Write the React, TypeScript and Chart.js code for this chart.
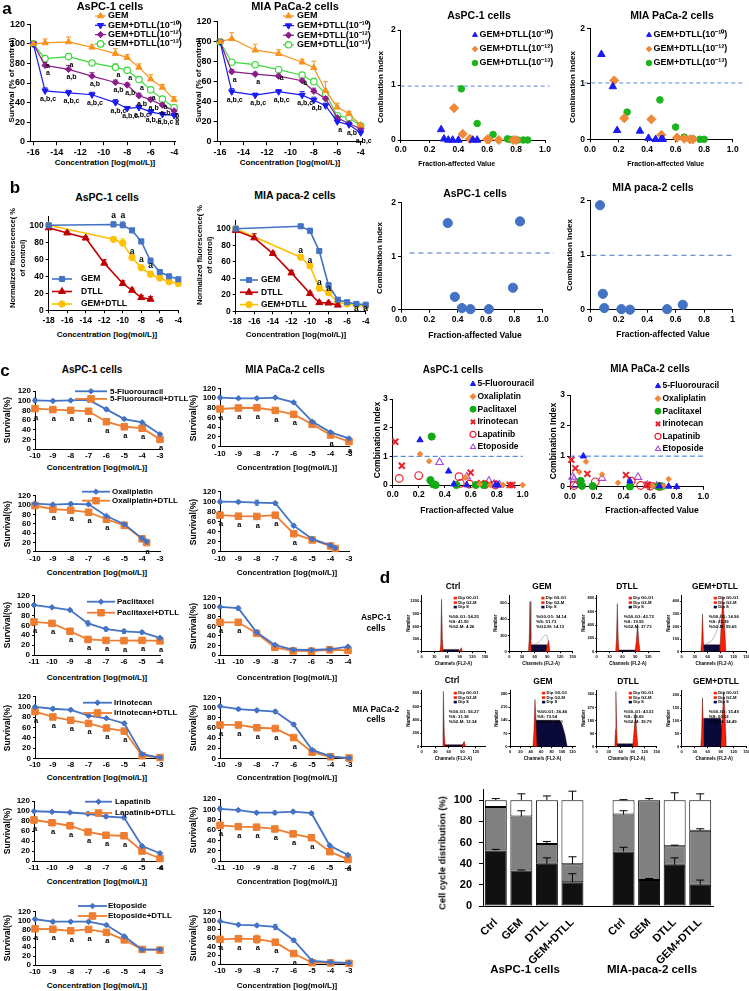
import React, { useEffect, useRef } from "react";
import { Chart, registerables } from "chart.js";

Chart.register(...registerables);

const FF = "'Liberation Sans', Arial, Helvetica, sans-serif";
const bf = (s: number) => `bold ${s}px ${FF}`;

// ================= Panel a : survival curves =================
const A_X = [-16, -15, -13, -11, -9, -8, -7, -6, -5, -4];
const A_XTICKS = [-16, -14, -12, -10, -8, -6, -4];
const A_YTICKS = [0, 20, 40, 60, 80, 100, 120];
const A_LABELS = ["GEM", "GEM+DTLL(10⁻¹⁰)", "GEM+DTLL(10⁻¹²)", "GEM+DTLL(10⁻¹³)"];

const A1_GEM = [100, 101, 102, 96.5, 90, 86, 76, 64, 55.5, 43];
const A1_GEM_ERR = [0, 4, 5, 2.5, 5, 3, 3.5, 4.5, 3, 3];
const A1_D10 = [100, 52, 50, 48, 40, 34, 35, 30.5, 28, 27];
const A1_D10_ERR = [0, 3, 2.5, 2.5, 3, 2, 2.5, 2, 1.5, 2];
const A1_D12 = [100, 78, 74, 67, 60.5, 58, 47, 43, 37.5, 31.5];
const A1_D12_ERR = [0, 3, 4, 3.5, 2.5, 2, 2.5, 2, 2, 1.5];
const A1_D13 = [100, 85, 87, 80.5, 76, 73, 63.5, 53, 43.5, 35];
const A1_D13_ERR = [0, 2, 2.5, 2.5, 3.5, 3, 2, 2.5, 1.5, 2];
const A1_N10 = ["", "a,b,c", "a,b,c", "a,b,c", "a,b,c", "a,b,c", "a,b,c", "a,b,c", "a,b,c", "a"];
const A1_N12 = ["", "a", "a,b", "a,b", "a,b", "a,b", "a,b", "a,b", "a,b", "a"];
const A1_N13 = ["", "a", "a", "", "a", "a", "a", "a", "a", "a"];

const A2_GEM = [100, 103, 91.5, 88, 79.5, 74, 51, 34.5, 28, 16.5];
const A2_GEM_ERR = [0, 6, 6, 4, 3, 6.5, 9, 4, 2, 1.5];
const A2_D10 = [100, 50, 46.5, 50, 46.5, 41.5, 36, 20, 17, 9];
const A2_D10_ERR = [0, 3, 2, 2, 3.5, 3, 2.5, 2, 2, 1.5];
const A2_D12 = [100, 70, 67.5, 65.5, 61, 50.5, 43, 24, 18, 13];
const A2_D12_ERR = [0, 2, 2, 2, 2.5, 3, 2.5, 2, 2, 1.5];
const A2_D13 = [100, 79.5, 77, 72, 66.5, 60, 48, 26, 24, 16];
const A2_D13_ERR = [0, 2, 2, 2, 3, 3.5, 3, 2, 2, 2];
const A2_N10 = ["", "a,b,c", "a,b,c", "a,b,c", "a,b,c", "a,b", "", "a", "a,b", "a,b,c"];
const A2_N12 = ["", "a", "a", "", "", "", "", "", "", ""];
const A2_N13 = ["", "", "", "a", "a", "", "", "", "", ""];

// Combination index (fraction affected, CI)
const CI_XTICKS = [0, 0.2, 0.4, 0.6, 0.8, 1.0];
const A3_D10 = [[0.28, 0.19], [0.3, 0.02], [0.33, 0], [0.36, 0], [0.4, 0], [0.5, 0], [0.53, 0]];
const A3_D12 = [[0.37, 0.58], [0.43, 0.11], [0.48, 0.02], [0.6, 0.01], [0.61, 0.01], [0.68, 0], [0.78, 0], [0.8, 0]];
const A3_D13 = [[0.42, 0.93], [0.53, 0.3], [0.64, 0.1], [0.74, 0.02], [0.76, 0.01], [0.81, 0], [0.85, 0], [0.88, 0]];
const A4_D10 = [[0.08, 1.53], [0.16, 0.95], [0.19, 0.16], [0.35, 0.15], [0.41, 0.02], [0.46, 0], [0.5, 0], [0.51, 0]];
const A4_D12 = [[0.17, 1.06], [0.24, 0.38], [0.43, 0.36], [0.5, 0.08], [0.61, 0.03], [0.66, 0.01], [0.7, 0], [0.72, 0]];
const A4_D13 = [[0.26, 0.49], [0.49, 0.71], [0.6, 0.22], [0.66, 0.04], [0.72, 0.01], [0.77, 0], [0.8, 0]];

// ================= Panel b =================
const B_XTICKS = [-18, -16, -14, -12, -10, -8, -6, -4];
const B_YTICKS = [0, 20, 40, 60, 80, 100];
const B_LABELS = ["GEM", "DTLL", "GEM+DTLL"];
const B_GEM_X = [-18, -11, -10, -9, -8, -7, -6, -5, -4];
const B_DTLL_X = [-18, -16, -14, -12, -10, -9, -8, -7];
const B_COMB_X = [-18, -11, -10, -9, -8, -7, -6, -5, -4];
const B1_GEM = [100, 101, 100, 94, 81, 58, 45, 40, 36.5];
const B1_GEM_ERR = [3, 3, 4, 2.5, 2.5, 3.5, 2.5, 2, 1.5];
const B1_DTLL = [97, 91, 85, 55.5, 31.5, 23.5, 15, 13];
const B1_DTLL_ERR = [1.5, 2, 2, 4, 3, 2.5, 2.5, 3];
const B1_COMB = [100, 83.5, 79, 62, 50, 42.5, 38, 33.5, 31.5];
const B1_COMB_ERR = [2, 2, 5, 3, 3, 3, 2, 1.5, 1.5];
const B1_NOTES: [number, number, string][] = [[-11, 111, "a"], [-10, 111, "a"], [-9, 69, "a"], [-8, 59, "a"], [-7, 52, "a"]];
const B2_GEM = [100, 103, 97.5, 73, 31.5, 14, 11, 9, 8];
const B2_GEM_ERR = [3, 2, 3, 3, 3, 2, 1.5, 1, 1];
const B2_DTLL = [98, 89, 70, 46.5, 21.5, 10.5, 10, 7.5];
const B2_DTLL_ERR = [3, 5, 2.5, 3, 2, 2, 1.5, 2];
const B2_COMB = [100, 65.5, 55, 28, 22.5, 11, 9, 7.5, 6.5];
const B2_COMB_ERR = [2, 2, 3, 3, 2, 1.5, 1, 1, 1];
const B2_NOTES: [number, number, string][] = [[-11, 74, "a"], [-10, 61, "a"], [-9, 35, "a"], [-8, 27, "a"], [-5, 3.5, "a"], [-4, 3.5, "a"]];
const B3_CI = [[0.33, 1.62], [0.84, 1.65], [0.38, 0.24], [0.43, 0.03], [0.49, 0.01], [0.62, 0.01], [0.79, 0.41]];
const B4_CI = [[0.07, 1.91], [0.09, 0.29], [0.1, 0.03], [0.22, 0.01], [0.28, 0], [0.54, 0.01], [0.65, 0.09]];

// ================= Panel c =================
const C_YTICKS = [0, 20, 40, 60, 80, 100, 120];
const X_10_3 = [-10, -9, -8, -7, -6, -5, -4, -3];
const X_11_4 = [-11, -10, -9, -8, -7, -6, -5, -4];
const X_OXA = [-10, -9, -8, -7, -6, -5, -4, -3.75];
const C_DRUGS = ["5-Fluorouracil", "Oxaliplatin", "Paclitaxel", "Irinotecan", "Lapatinib", "Etoposide"];

const C1L_B = [100.5, 99.5, 100.5, 101.5, 82, 62, 55, 30.5];
const C1L_B_E = [4, 2, 2, 2, 3, 2, 2, 2];
const C1L_O = [83.5, 81.5, 80, 78, 56.5, 46, 43, 20];
const C1L_O_E = [6, 4, 5, 6, 3, 3, 3, 3];
const C1R_B = [101, 99.5, 99.5, 101, 91, 51.5, 29.5, 17];
const C1R_B_E = [3, 2, 2, 2, 2, 2, 2, 2];
const C1R_O = [77.5, 79.5, 80, 74.5, 66.5, 46, 24, 10.5];
const C1R_O_E = [3, 3, 2, 3, 2, 2, 2, 2];

const C2L_B = [103, 101, 102.5, 101.5, 76.5, 59, 28.5, 21.5];
const C2L_B_E = [2, 2, 3, 2, 2, 2, 2, 2];
const C2L_O = [99, 91, 89, 84.5, 69.5, 56.5, 27.5, 19.5];
const C2L_O_E = [7, 3, 3, 3, 3, 2, 2, 2];
const C2R_B = [100, 99.5, 98, 97, 52, 25.5, 12.5, 7.5];
const C2R_B_E = [3, 3, 5, 3, 3, 2, 2, 1];
const C2R_O = [73, 71, 70.5, 73, 36, 23.5, 11.5, 6.5];
const C2R_O_E = [2, 2, 2, 2, 2, 2, 2, 1];

const C3L_B = [101, 96.5, 91, 64, 52.5, 48, 46, 34.5];
const C3L_B_E = [3, 2, 2, 5, 4, 4, 3, 2];
const C3L_O = [67, 64, 48, 31.5, 29.5, 29, 29.5, 28.5];
const C3L_O_E = [5, 3, 3, 3, 2, 2, 2, 2];
const C3R_B = [101, 98, 47.5, 21, 11, 10.5, 12, 17.5];
const C3R_B_E = [3, 4, 4, 3, 2, 2, 2, 2];
const C3R_O = [68.5, 68.5, 45.5, 16, 8.5, 8, 11, 9.5];
const C3R_O_E = [6, 5, 3, 2, 2, 2, 2, 2];

const C4L_B = [100, 96.5, 94.5, 83, 78, 68, 8, 1.5];
const C4L_B_E = [3, 3, 2, 3, 2, 3, 2, 1];
const C4L_O = [91, 80.5, 74, 68, 59, 53, 5, 1.5];
const C4L_O_E = [3, 2, 2, 2, 2, 2, 2, 1];
const C4R_B = [103, 97.5, 95, 92.5, 67, 16.5, 4, 0.5];
const C4R_B_E = [3, 3, 3, 3, 3, 3, 2, 1];
const C4R_O = [66, 66, 60.5, 59, 41, 12, 3, 0.5];
const C4R_O_E = [2, 3, 3, 3, 4, 2, 2, 1];

const C5L_B = [99.5, 98.5, 97, 94.5, 89, 87, 30, 15.5];
const C5L_B_E = [2, 2, 2, 3, 3, 3, 3, 2];
const C5L_O = [82, 76.5, 70.5, 58, 51.5, 50.5, 20, 5];
const C5L_O_E = [6, 3, 2, 5, 2, 3, 3, 2];
const C5R_B = [101, 98.5, 93.5, 93.5, 95.5, 92.5, 30, 11.5];
const C5R_B_E = [4, 2, 2, 3, 3, 3, 3, 2];
const C5R_O = [69, 66.5, 65.5, 62, 52.5, 45, 18, 3];
const C5R_O_E = [3, 2, 2, 2, 2, 3, 2, 1];

const C6L_B = [103, 97.5, 97.5, 97.5, 90, 64.5, 34.5, 35];
const C6L_B_E = [3, 3, 2, 3, 2, 2, 2, 2];
const C6L_O = [81.5, 80.5, 77, 80, 73.5, 56.5, 35, 33.5];
const C6L_O_E = [3, 3, 6, 5, 3, 3, 2, 2];
const C6R_B = [98, 90, 88.5, 85, 54.5, 7, 4, 2.5];
const C6R_B_E = [2, 2, 3, 6, 4, 1, 1, 1];
const C6R_O = [56.5, 58, 57, 50, 24, 3, 2.5, 1.5];
const C6R_O_E = [6, 4, 9, 6, 3, 1, 1, 1];

const N_ALL = ["a", "a", "a", "a", "a", "a", "a", "a"];
const N_C1R = ["a", "a", "a", "a", "a", "", "a", "a"];
const N_C2L = ["", "a", "a", "a", "a", "", "", "a"];
const N_FIRST5 = ["a", "a", "a", "a", "a", "", "", ""];
const N_FIRST6 = ["a", "a", "a", "a", "a", "a", "", ""];
const N_FIRST2 = ["a", "a", "", "", "", "", "", ""];
const N_C5R = ["a", "a", "a", "a", "a", "a", "", "a"];

const CI3_YTICKS = [0, 1, 2, 3];
const CC1 = [
  [[0.21, 1.57], [0.43, 0.48], [0.47, 0.03], [0.57, 0], [0.79, 0], [0.81, 0]],
  [[0.21, 1.08], [0.28, 0.83], [0.56, 0.26], [0.67, 0.03], [0.75, 0], [0.83, 0], [0.85, 0], [1.0, 0]],
  [[0.3, 1.69], [0.29, 0.17], [0.31, 0.03], [0.33, 0], [0.49, 0], [0.64, 0], [0.7, 0]],
  [[0.02, 1.51], [0.07, 0.67], [0.6, 0.43], [0.68, 0.06], [0.74, 0.03], [0.9, 0], [0.92, 0]],
  [[0.05, 0.23], [0.2, 0.33], [0.51, 0.29], [0.52, 0.06], [0.59, 0.03], [0.71, 0.01], [0.79, 0]],
  [[0.36, 0.79], [0.57, 0.29], [0.74, 0.14], [0.78, 0.03], [0.8, 0], [0.82, 0]],
];
const CC2 = [
  [[0.1, 1.0], [0.45, 0.18], [0.67, 0.02], [0.74, 0.01], [0.8, 0]],
  [[0.12, 0.82], [0.07, 0.48], [0.24, 0.4], [0.36, 0.13], [0.74, 0.25], [0.7, 0.02], [0.62, 0.02]],
  [[0.08, 0.19], [0.09, 0.03], [0.17, 0.02], [0.45, 0.01], [0.66, 0.01], [0.69, 0.01]],
  [[0.01, 0.88], [0.04, 0.6], [0.13, 0.42], [0.42, 0.38], [0.58, 0.07], [0.61, 0.04]],
  [[0.03, 0.04], [0.19, 0.16], [0.46, 0.18], [0.53, 0.04], [0.6, 0.02], [0.67, 0.01]],
  [[0.02, 0.32], [0.03, 0.25], [0.04, 0.05], [0.24, 0.28], [0.51, 0.31], [0.58, 0.05], [0.65, 0.02]],
];

// ================= Panel d =================
const H_STATS_ASPC = [[54.25, 41.5, 4.26], [34.14, 51.73, 14.13], [42.72, 19.55, 37.73], [14.96, 25.39, 59.65]];
const H_STATS_MIA = [[56.27, 31.38, 12.34], [26.46, 73.54, 0.0], [43.51, 16.69, 39.79], [15.49, 50.02, 34.49]];
const H_X150 = [0, 30, 60, 90, 120, 150];
const H_X120 = [0, 30, 60, 90, 120];
const H_X_GEM = [0, 20, 40, 60, 80, 100, 120];
const H1_Y = [0, 300, 600, 900, 1200];
const H2_Y = [0, 200, 400, 600];
const H3_Y = [0, 200, 400, 600, 800];
const H4_Y = [0, 100, 200, 300, 400];
const H5_Y = [0, 200, 400, 600, 800];
const H6_Y = [0, 70, 140, 210, 280];
const H7_Y = [0, 90, 180, 270, 360];
const H8_Y = [0, 50, 100, 150, 200];
const H1_G1 = [[43, 0], [45, 150], [47, 1250], [49, 300], [51, 0]];
const H1_S = [[50, 0], [50, 55], [88, 55], [88, 0]];
const H1_G2 = [[89, 0], [92, 70], [94, 95], [96, 0]];
const H2_G1 = [[45, 0], [47, 150], [49, 620], [51, 150], [53, 0]];
const H2_S = [[51, 0], [51, 85], [88, 85], [88, 0]];
const H2_G2 = [[86, 0], [90, 80], [93, 140], [96, 0]];
const H2_OUT = [[52, 85], [65, 100], [75, 150], [82, 195], [88, 205], [92, 140]];
const H3_G1 = [[44, 0], [46, 200], [48, 720], [50, 200], [52, 0]];
const H3_S = [[50, 0], [50, 25], [90, 25], [90, 0]];
const H3_G2 = [[89, 0], [92, 150], [95, 410], [98, 150], [101, 0]];
const H4_G1 = [[44, 0], [46, 80], [48, 300], [50, 80], [52, 0]];
const H4_S = [[50, 0], [50, 55], [88, 55], [88, 0]];
const H4_G2 = [[88, 0], [91, 200], [95, 440], [99, 200], [102, 0]];
const H4_OUT = [[55, 60], [70, 90], [82, 180], [90, 300]];
const H5_G1 = [[45, 0], [47, 200], [48, 830], [50, 200], [52, 0]];
const H5_S = [[50, 0], [50, 30], [90, 30], [90, 0]];
const H5_G2 = [[88, 0], [91, 40], [94, 80], [97, 0]];
const H6_G1 = [[44, 0], [46, 80], [48, 250], [50, 150], [52, 0]];
const H6_S = [[48, 0], [50, 140], [95, 140], [100, 120], [106, 60], [110, 0]];
const H6_G2: number[][] = [];
const H7_G1 = [[45, 0], [47, 120], [48, 380], [50, 120], [52, 0]];
const H7_S = [[50, 0], [50, 20], [90, 20], [90, 0]];
const H7_G2 = [[90, 0], [93, 100], [97, 230], [100, 100], [103, 0]];
const H8_G1 = [[44, 0], [46, 60], [48, 190], [50, 60], [52, 0]];
const H8_S = [[50, 0], [50, 110], [90, 110], [93, 60], [95, 0]];
const H8_G2 = [[90, 0], [94, 120], [97, 215], [100, 120], [103, 0]];

const BAR_CATS = ["Ctrl", "GEM", "DTLL", "GEM+DTLL", "", "Ctrl", "GEM", "DTLL", "GEM+DTLL"];
const BAR_YTICKS = [0, 20, 40, 60, 80, 100];
const BAR_G1 = [52.5, 33.5, 40, 22.5, null, 51.5, 24.5, 39, 20];
const BAR_S = [41, 51, 18.5, 17, null, 35, 75.5, 17.5, 51];
const BAR_G2 = [6.5, 15.5, 41.5, 60.5, null, 13.5, 0, 43.5, 29];
const BAR_G1_ERR = [1, 0.5, 5.5, 8, 0, 4, 1.5, 6.5, 4.5];
const BAR_S_ERR = [0.5, 5.5, 2.5, 7, 0, 3.5, 1.5, 1, 2];
const BAR_G2_ERR = [1.5, 6, 4, 8.5, 0, 0.5, 0, 7, 6];

// ================= colours =================
const C_GEM_A = "#F7941D";
const C_D10 = "#1A1AF2";
const C_D12 = "#8B1C8B";
const C_D13 = "#3BD83B";
const C_CIO = "#F0883A";
const C_CIG = "#1DB41D";
const C_XB = "#4472C4";
const C_XR = "#C00000";
const C_XY = "#FFC000";
const C_XO = "#ED7D31";
const C_DASH = "#4F86E0";
const C_RED = "#FF1E00";
const C_NAVY = "#0A0A3A";

type P4 = [number, number, number, number];

function marker(ctx: any, style: string, x: number, y: number, r: number, stroke: string, fill: string, rot: number, lw: number) {
  ctx.save();
  ctx.translate(x, y);
  ctx.rotate((rot * Math.PI) / 180);
  ctx.beginPath();
  if (style === "triangle") {
    ctx.moveTo(0, -r);
    ctx.lineTo(0.866 * r, 0.5 * r);
    ctx.lineTo(-0.866 * r, 0.5 * r);
    ctx.closePath();
  } else if (style === "rect") {
    const s = r * Math.SQRT1_2;
    ctx.rect(-s, -s, 2 * s, 2 * s);
  } else if (style === "rectRot") {
    ctx.moveTo(-r, 0);
    ctx.lineTo(0, -r);
    ctx.lineTo(r, 0);
    ctx.lineTo(0, r);
    ctx.closePath();
  } else if (style === "crossRot") {
    const s = r * Math.SQRT1_2;
    ctx.moveTo(-s, -s);
    ctx.lineTo(s, s);
    ctx.moveTo(s, -s);
    ctx.lineTo(-s, s);
  } else {
    ctx.arc(0, 0, r, 0, Math.PI * 2);
  }
  ctx.lineWidth = lw;
  ctx.strokeStyle = stroke;
  ctx.fillStyle = fill;
  if (style !== "crossRot") ctx.fill();
  ctx.stroke();
  ctx.restore();
}

function drawErr(chart: any) {
  const ctx = chart.ctx;
  const ys = chart.scales.y;
  chart.data.datasets.forEach((ds: any, i: number) => {
    if (!ds.errs) return;
    const meta = chart.getDatasetMeta(i);
    ctx.save();
    ctx.strokeStyle = ds.errColor || ds.borderColor;
    ctx.lineWidth = ds.errW || 1;
    meta.data.forEach((el: any, j: number) => {
      const e = ds.errs[j];
      if (!e) return;
      const v = ys.getValueForPixel(el.y);
      const yt = ys.getPixelForValue(v + e);
      const yb = ds.errBoth ? ys.getPixelForValue(v - e) : el.y;
      const cw = ds.errCap ?? 2.5;
      ctx.beginPath();
      ctx.moveTo(el.x, yb);
      ctx.lineTo(el.x, yt);
      ctx.moveTo(el.x - cw, yt);
      ctx.lineTo(el.x + cw, yt);
      if (ds.errBoth) {
        ctx.moveTo(el.x - cw, yb);
        ctx.lineTo(el.x + cw, yb);
      }
      ctx.stroke();
    });
    ctx.restore();
  });
}

function overlay(ext: any, bx: number, by: number) {
  return {
    id: "overlay",
    beforeDatasetsDraw(chart: any) {
      const ctx = chart.ctx;
      const xs = chart.scales.x;
      const ys = chart.scales.y;
      (ext.hlines || []).forEach((h: any) => {
        const y = ys.getPixelForValue(h.y);
        ctx.save();
        ctx.strokeStyle = h.color;
        ctx.lineWidth = 1;
        ctx.setLineDash(h.dash || [4, 3]);
        ctx.beginPath();
        ctx.moveTo(xs.getPixelForValue(h.x0), y);
        ctx.lineTo(xs.getPixelForValue(h.x1), y);
        ctx.stroke();
        ctx.restore();
      });
      if (chart.config.type !== "bar") drawErr(chart);
    },
    afterDatasetsDraw(chart: any) {
      const ctx = chart.ctx;
      const xs = chart.scales.x;
      const ys = chart.scales.y;
      if (chart.config.type === "bar") drawErr(chart);
      ctx.save();
      ctx.fillStyle = "#000";
      ctx.textAlign = "center";
      ctx.textBaseline = "middle";
      if (ext.noteFont) {
        ctx.font = ext.noteFont;
        chart.data.datasets.forEach((ds: any, i: number) => {
          if (!ds.notes) return;
          chart.getDatasetMeta(i).data.forEach((el: any, j: number) => {
            const t = ds.notes[j];
            if (t) ctx.fillText(t, el.x + (ext.ndx ?? 0), el.y + (ext.ndy ?? 8));
          });
        });
        (ext.notes || []).forEach((n: any) => ctx.fillText(n[2], xs.getPixelForValue(n[0]), ys.getPixelForValue(n[1])));
      }
      const L = ext.legend;
      if (L) {
        ctx.textAlign = "left";
        chart.data.datasets
          .filter((d: any) => d.label)
          .forEach((ds: any, k: number) => {
            const x = L.x - bx;
            const y = L.y - by + k * L.dy;
            if (L.line) {
              ctx.strokeStyle = ds.borderColor;
              ctx.lineWidth = ds.borderWidth;
              ctx.beginPath();
              ctx.moveTo(x, y);
              ctx.lineTo(x + L.line, y);
              ctx.stroke();
            }
            marker(ctx, ds.pointStyle, x + (L.line || 0) / 2, y, L.r ?? ds.pointRadius, ds.pointBorderColor, ds.pointBackgroundColor, ds.pointRotation || 0, ds.pointBorderWidth || 1);
            ctx.fillStyle = "#000";
            ctx.font = L.font;
            ctx.fillText(ds.label, x + (L.line || 0) + L.gap, y);
          });
      }
      (ext.rects || []).forEach((r: any) => {
        ctx.fillStyle = r.c;
        ctx.fillRect(r.x - bx, r.y - by, r.w, r.h);
      });
      ctx.textAlign = "left";
      (ext.texts || []).forEach((t: any) => {
        ctx.font = t.f;
        ctx.fillStyle = "#000";
        ctx.fillText(t.t, t.x - bx, t.y - by);
      });
      ctx.restore();
    },
  };
}

function lin(min: number, max: number, ticks: number[], o: any = {}) {
  return {
    type: "linear",
    min,
    max,
    afterBuildTicks: (s: any) => {
      s.ticks = ticks.map((v) => ({ value: v }));
    },
    ticks: {
      font: { family: FF, size: o.font ?? 9, weight: "bold" },
      color: "#000",
      padding: o.pad ?? 2,
      autoSkip: false,
      maxRotation: 0,
      minRotation: 0,
      callback: (v: any) => (o.fmt ? o.fmt(Number(v)) : String(v)),
    },
    grid: { display: true, drawOnChartArea: false, drawTicks: (o.tick ?? 3) > 0, tickLength: o.tick ?? 3, color: "#000", lineWidth: 1 },
    border: { display: true, color: "#000", width: 1 },
    title: o.title
      ? { display: true, text: o.title, font: { family: FF, size: o.tfont ?? 4.5, weight: "bold" }, color: "#000", padding: 0 }
      : { display: false },
  };
}

function build(plot: P4, m: P4, type: string, datasets: any[], xs: any, ys: any, ext: any, labels?: string[]) {
  const bx = Math.floor(plot[0] - m[0]);
  const by = Math.floor(plot[1] - m[1]);
  const bw = Math.ceil(plot[2] + m[2]) - bx;
  const bh = Math.ceil(plot[3] + m[3]) - by;
  const ml = plot[0] - bx;
  const mt = plot[1] - by;
  const mr = bx + bw - plot[2];
  const mb = by + bh - plot[3];
  xs.afterFit = (s: any) => {
    s.height = mb;
  };
  ys.afterFit = (s: any) => {
    s.width = ml;
  };
  const data: any = { datasets };
  if (labels) data.labels = labels;
  const cfg = {
    type,
    data,
    options: {
      responsive: false,
      animation: false,
      events: [],
      layout: { padding: { left: 0, top: mt, right: mr, bottom: 0 }, autoPadding: false },
      plugins: { legend: { display: false }, tooltip: { enabled: false }, title: { display: false } },
      scales: { x: xs, y: ys },
    },
    plugins: [overlay(ext, bx, by)],
  };
  return { box: [bx, by, bw, bh] as P4, cfg };
}

function ln(label: string, xs: number[], ys: number[], errs: number[] | null, color: string, style: string, r: number, o: any = {}) {
  return {
    label,
    data: xs.map((x, i) => ({ x, y: ys[i] })),
    errs,
    errBoth: !!o.both,
    errCap: o.cap ?? 2.5,
    notes: o.notes,
    borderColor: color,
    backgroundColor: color,
    borderWidth: o.lw ?? 1.2,
    pointStyle: style,
    pointRadius: r,
    pointRotation: o.rot ?? 0,
    pointBorderWidth: o.pbw ?? 1,
    pointBorderColor: color,
    pointBackgroundColor: o.fill ?? color,
    showLine: true,
    tension: 0,
    clip: false,
    fill: false,
  };
}

function sc(label: string, pairs: number[][], color: string, style: string, r: number, o: any = {}) {
  return {
    label,
    data: pairs.map((p) => ({ x: p[0], y: p[1] })),
    borderColor: color,
    backgroundColor: color,
    pointStyle: style,
    pointRadius: r,
    pointRotation: 0,
    pointBorderWidth: o.pbw ?? 1,
    pointBorderColor: color,
    pointBackgroundColor: o.fill ?? color,
    showLine: false,
    clip: false,
  };
}

function area(pairs: number[][], color: string) {
  return {
    data: pairs.map((p) => ({ x: p[0], y: p[1] })),
    borderColor: "#300",
    borderWidth: 0.4,
    backgroundColor: color,
    fill: "origin",
    pointRadius: 0,
    tension: 0,
    clip: false,
  };
}

const f1 = (v: number) => v.toFixed(1);

function cchart(plot: P4, xmin: number, xmax: number, X: number[], B: number[], BE: number[], O: number[], OE: number[], notes: string[], leg?: any) {
  const ds = [
    ln(leg ? leg.name : "", X, B, BE, C_XB, "rectRot", 2.8, { lw: 1.8, both: true, cap: 2 }),
    ln(leg ? leg.name + "+DTLL" : "", X, O, OE, C_XO, "rect", 4.6, { lw: 1.8, both: true, cap: 2, notes }),
  ];
  const ext: any = { noteFont: bf(7.5), ndx: 1, ndy: 9 };
  if (leg) ext.legend = { x: leg.x, y: leg.y, dy: leg.dy, line: leg.line, gap: leg.gap, font: bf(8) };
  const xt = X[0] === -11 ? X_11_4 : X_10_3;
  return build(plot, [30, 10, 40, 14], "line", ds, lin(xmin, xmax, xt, { font: 8, tick: 0, pad: 2 }), lin(0, 120, C_YTICKS, { font: 8, tick: 2, pad: 2 }), ext);
}

function ciChart(plot: P4, sets: number[][][], leg: any, dashY: number) {
  const ds = [
    sc(C_DRUGS[0], sets[0], "#1A1AF2", "triangle", 3.6),
    sc(C_DRUGS[1], sets[1], C_CIO, "rectRot", 2.8),
    sc(C_DRUGS[2], sets[2], "#12AA12", "circle", 3.6),
    sc(C_DRUGS[3], sets[3], "#E8202A", "crossRot", 4.2, { pbw: 2 }),
    sc(C_DRUGS[4], sets[4], "#E8202A", "circle", 3.8, { fill: "rgba(0,0,0,0)", pbw: 1.2 }),
    sc(C_DRUGS[5], sets[5], "#A64AD8", "triangle", 4.4, { fill: "rgba(0,0,0,0)", pbw: 1.1 }),
  ];
  return build(plot, [30, 22, 45, 16], "scatter", ds, lin(0, 1, CI_XTICKS, { font: 8.5, tick: 3, fmt: f1 }), lin(0, 3, CI3_YTICKS, { font: 8.5, tick: 3 }), {
    hlines: [{ y: dashY, x0: 0, x1: 1, color: "#2F6FE0", dash: [5, 3] }],
    legend: { x: leg.x, y: leg.y, dy: 12.6, line: 0, gap: 4.5, font: bf(8.5), r: 3 },
  });
}

function hist(plot: P4, xmax: number, xt: number[], ymax: number, yt: number[], g1: number[][], s: number[][], g2: number[][], st: number[], out?: number[][]) {
  const ds: any[] = [area(g1, C_RED), area(g2, C_RED)];
  if (out) ds.push({ data: out.map((p) => ({ x: p[0], y: p[1] })), borderColor: "#888", borderWidth: 0.6, pointRadius: 0, fill: false, tension: 0.3, clip: false });
  ds.push(area(s, C_NAVY));
  const lx = plot[0] + 32;
  const ty = plot[1];
  const ext = {
    rects: [
      { x: lx, y: ty + 1.8, w: 3.2, h: 2.6, c: C_RED },
      { x: lx, y: ty + 6.3, w: 3.2, h: 2.6, c: C_RED },
      { x: lx, y: ty + 10.8, w: 3.2, h: 2.6, c: C_NAVY },
    ],
    texts: [
      { t: "Dip G0-G1", x: lx + 4.5, y: ty + 3.1, f: bf(4.2) },
      { t: "Dip G2-M", x: lx + 4.5, y: ty + 7.6, f: bf(4.2) },
      { t: "Dip S", x: lx + 4.5, y: ty + 12.1, f: bf(4.2) },
      { t: "%G0-G1: " + st[0].toFixed(2), x: plot[0] + 27, y: ty + 22, f: bf(4.3) },
      { t: "%S: " + st[1].toFixed(2), x: plot[0] + 27, y: ty + 27, f: bf(4.3) },
      { t: "%G2-M: " + st[2].toFixed(2), x: plot[0] + 27, y: ty + 32, f: bf(4.3) },
    ],
  };
  return build(
    plot,
    [15.7, 6, 6, 13.7],
    "line",
    ds,
    lin(0, xmax, xt, { font: 4, tick: 1.5, pad: 1, title: "Channels (FL2-A)", tfont: 4.5 }),
    lin(0, ymax, yt, { font: 4, tick: 1.5, pad: 1, title: "Number", tfont: 4.5 }),
    ext
  );
}

function makeSpecs() {
  const S: { box: P4; cfg: any }[] = [];
  // ---- a1, a2
  const aSets = (G: number[], GE: number[], D10: number[], D10E: number[], D12: number[], D12E: number[], D13: number[], D13E: number[], n10: string[], n12: string[], n13: string[]) => [
    ln(A_LABELS[0], A_X, G, GE, C_GEM_A, "triangle", 3.6),
    ln(A_LABELS[1], A_X, D10, D10E, C_D10, "triangle", 3.6, { rot: 180, notes: n10 }),
    ln(A_LABELS[2], A_X, D12, D12E, C_D12, "rectRot", 3.2, { notes: n12 }),
    ln(A_LABELS[3], A_X, D13, D13E, C_D13, "circle", 3.2, { fill: "#fff", pbw: 1.2, notes: n13 }),
  ];
  S.push(
    build([30.4, 24.3, 175.9, 141.7], [30, 20, 10, 16], "line",
      aSets(A1_GEM, A1_GEM_ERR, A1_D10, A1_D10_ERR, A1_D12, A1_D12_ERR, A1_D13, A1_D13_ERR, A1_N10, A1_N12, A1_N13),
      lin(-16.25, -3.85, A_XTICKS, { font: 9, tick: 3.5 }), lin(0, 120, A_YTICKS, { font: 9, tick: 3.5 }),
      { noteFont: bf(7), ndx: 3, ndy: 8, legend: { x: 95, y: 16, dy: 9.3, line: 11, gap: 2, font: bf(9) } })
  );
  S.push(
    build([217.1, 21.7, 362.5, 141.7], [30, 20, 10, 16], "line",
      aSets(A2_GEM, A2_GEM_ERR, A2_D10, A2_D10_ERR, A2_D12, A2_D12_ERR, A2_D13, A2_D13_ERR, A2_N10, A2_N12, A2_N13),
      lin(-16.25, -3.85, A_XTICKS, { font: 9, tick: 3.5 }), lin(0, 120, A_YTICKS, { font: 9, tick: 3.5 }),
      { noteFont: bf(7), ndx: 3, ndy: 8, legend: { x: 283, y: 16, dy: 9.6, line: 11, gap: 3, font: bf(9) } })
  );
  // ---- a3, a4
  const ciA = (plot: P4, d10: number[][], d12: number[][], d13: number[][], dashY: number, x0: number, x1: number, lx: number) =>
    build(plot, [30, 10, 20, 16], "scatter",
      [sc(A_LABELS[1], d10, C_D10, "triangle", 4.3), sc(A_LABELS[2], d12, C_CIO, "rectRot", 4.6), sc(A_LABELS[3], d13, C_CIG, "circle", 3.3)],
      lin(0, 1, CI_XTICKS, { font: 8.5, tick: 3, fmt: f1 }), lin(0, 2, [0, 1, 2], { font: 8.5, tick: 3 }),
      { hlines: [{ y: dashY, x0, x1, color: C_DASH, dash: [4, 3] }], legend: { x: lx, y: 35, dy: 14, line: 0, gap: 4.5, font: bf(9), r: 2.8 } });
  S.push(ciA([400.7, 30, 545, 140], A3_D10, A3_D12, A3_D13, 0.98, 0, 1.03, 475));
  S.push(ciA([590, 28.3, 732.7, 139.3], A4_D10, A4_D12, A4_D13, 1.015, -0.04, 1.07, 649));
  // ---- b1, b2
  const bSets = (G: number[], GE: number[], D: number[], DE: number[], C: number[], CE: number[]) => [
    ln(B_LABELS[0], B_GEM_X, G, GE, C_XB, "rect", 3.6, { lw: 1.6 }),
    ln(B_LABELS[1], B_DTLL_X, D, DE, C_XR, "triangle", 4, { lw: 1.6 }),
    ln(B_LABELS[2], B_COMB_X, C, CE, C_XY, "circle", 3.2, { lw: 1.6 }),
  ];
  S.push(
    build([48.7, 216.8, 178.3, 310.3], [30, 12, 10, 16], "line", bSets(B1_GEM, B1_GEM_ERR, B1_DTLL, B1_DTLL_ERR, B1_COMB, B1_COMB_ERR),
      lin(-18, -4, B_XTICKS, { font: 8.5, tick: 3 }), lin(0, 110, B_YTICKS, { font: 8.5, tick: 3 }),
      { noteFont: bf(8.5), notes: B1_NOTES, legend: { x: 52, y: 279, dy: 12.5, line: 20, gap: 9, font: bf(8.5) } })
  );
  S.push(
    build([235.7, 220.5, 365.7, 311.3], [30, 12, 10, 16], "line", bSets(B2_GEM, B2_GEM_ERR, B2_DTLL, B2_DTLL_ERR, B2_COMB, B2_COMB_ERR),
      lin(-18, -4, B_XTICKS, { font: 8.5, tick: 3 }), lin(0, 110, B_YTICKS, { font: 8.5, tick: 3 }),
      { noteFont: bf(8.5), notes: B2_NOTES, legend: { x: 240, y: 280, dy: 12.3, line: 18, gap: 3, font: bf(8.5) } })
  );
  // ---- b3, b4
  S.push(
    build([401, 202.7, 542.7, 309.7], [30, 10, 12, 16], "scatter", [sc("", B3_CI, C_XB, "circle", 4.6)],
      lin(0, 1, CI_XTICKS, { font: 8.5, tick: 3, fmt: f1 }), lin(0, 2, [0, 1, 2], { font: 8.5, tick: 3 }),
      { hlines: [{ y: 1.06, x0: 0.06, x1: 1.08, color: C_XB, dash: [5, 4] }] })
  );
  S.push(
    build([590, 200.3, 732.7, 309.7], [30, 10, 12, 16], "scatter", [sc("", B4_CI, C_XB, "circle", 4.6)],
      lin(0, 1, CI_XTICKS, { font: 8.5, tick: 3, fmt: (v: number) => String(v) }), lin(0, 2, [0, 1, 2], { font: 8.5, tick: 3 }),
      { hlines: [{ y: 0.995, x0: 0.01, x1: 1.0, color: C_XB, dash: [5, 4] }] })
  );
  // ---- c line charts
  S.push(cchart([35, 391, 160, 449], -10, -3, X_10_3, C1L_B, C1L_B_E, C1L_O, C1L_O_E, N_ALL, { name: C_DRUGS[0], x: 75, y: 391.3, dy: 7.6, line: 32, gap: 3 }));
  S.push(cchart([220, 388.3, 349, 446.7], -10, -3, X_10_3, C1R_B, C1R_B_E, C1R_O, C1R_O_E, N_C1R));
  S.push(cchart([35, 495.7, 160, 551.7], -10, -3, X_OXA, C2L_B, C2L_B_E, C2L_O, C2L_O_E, N_C2L, { name: C_DRUGS[1], x: 82, y: 491.7, dy: 9, line: 28, gap: 2 }));
  S.push(cchart([220, 491.7, 349, 551.7], -10, -3, X_OXA, C2R_B, C2R_B_E, C2R_O, C2R_O_E, N_FIRST5));
  S.push(cchart([34, 595.7, 160, 655], -11, -4, X_11_4, C3L_B, C3L_B_E, C3L_O, C3L_O_E, N_ALL, { name: C_DRUGS[2], x: 87, y: 601.7, dy: 11, line: 28, gap: 2 }));
  S.push(cchart([220, 597.7, 348, 655], -11, -4, X_11_4, C3R_B, C3R_B_E, C3R_O, C3R_O_E, N_FIRST2));
  S.push(cchart([35, 696.7, 160, 758.3], -10, -3, X_10_3, C4L_B, C4L_B_E, C4L_O, C4L_O_E, N_FIRST6, { name: C_DRUGS[3], x: 83, y: 702.7, dy: 10.3, line: 29, gap: 2 }));
  S.push(cchart([220, 697.7, 349, 758.3], -10, -3, X_10_3, C4R_B, C4R_B_E, C4R_O, C4R_O_E, N_FIRST5));
  S.push(cchart([34, 801, 160, 861], -11, -4, X_11_4, C5L_B, C5L_B_E, C5L_O, C5L_O_E, N_ALL, { name: C_DRUGS[4], x: 85, y: 801.7, dy: 11.3, line: 27, gap: 3 }));
  S.push(cchart([220, 799, 348, 861], -11, -4, X_11_4, C5R_B, C5R_B_E, C5R_O, C5R_O_E, N_C5R));
  S.push(cchart([35, 911.7, 160, 965], -10, -3, X_10_3, C6L_B, C6L_B_E, C6L_O, C6L_O_E, N_FIRST5, { name: C_DRUGS[5], x: 78, y: 906, dy: 10, line: 29, gap: 1 }));
  S.push(cchart([220, 911.7, 349, 964], -10, -3, X_10_3, C6R_B, C6R_B_E, C6R_O, C6R_O_E, N_FIRST5));
  // ---- c CI charts
  S.push(ciChart([392.7, 399, 522.7, 485], CC1, { x: 473, y: 384 }, 1.0));
  S.push(ciChart([570, 395, 703.3, 486.7], CC2, { x: 658, y: 386 }, 1.0));
  // ---- d histograms
  S.push(hist([421.7, 595, 485, 651.7], 150, H_X150, 1350, H1_Y, H1_G1, H1_S, H1_G2, H_STATS_ASPC[0]));
  S.push(hist([509.3, 595, 572.7, 651.7], 150, H_X150, 700, H2_Y, H2_G1, H2_S, H2_G2, H_STATS_ASPC[1], H2_OUT));
  S.push(hist([596.7, 595, 659, 651.7], 145, H_X120, 850, H3_Y, H3_G1, H3_S, H3_G2, H_STATS_ASPC[2]));
  S.push(hist([681.7, 595, 746.7, 651.7], 150, H_X150, 450, H4_Y, H4_G1, H4_S, H4_G2, H_STATS_ASPC[3], H4_OUT));
  S.push(hist([421.7, 690, 485, 746.7], 140, H_X120, 850, H5_Y, H5_G1, H5_S, H5_G2, H_STATS_MIA[0]));
  S.push(hist([510, 690, 575, 746.7], 125, H_X_GEM, 300, H6_Y, H6_G1, H6_S, H6_G2, H_STATS_MIA[1]));
  S.push(hist([596.7, 690, 656.7, 746.7], 150, H_X150, 390, H7_Y, H7_G1, H7_S, H7_G2, H_STATS_MIA[2]));
  S.push(hist([681.7, 690, 746.7, 746.7], 150, H_X150, 220, H8_Y, H8_G1, H8_S, H8_G2, H_STATS_MIA[3]));
  // ---- d stacked bar
  const barDs = [
    { label: "", data: BAR_G1, backgroundColor: "#111111", borderColor: "#000", borderWidth: 1, borderSkipped: false, errs: BAR_G1_ERR, errColor: "#000", errCap: 4 },
    { label: "", data: BAR_S, backgroundColor: "#808080", borderColor: "#000", borderWidth: 1, borderSkipped: false, errs: BAR_S_ERR, errColor: "#000", errCap: 4 },
    { label: "", data: BAR_G2, backgroundColor: "#FFFFFF", borderColor: "#000", borderWidth: 1, borderSkipped: false, errs: BAR_G2_ERR, errColor: "#000", errCap: 4 },
  ].map((d) => ({ ...d, barPercentage: 0.86, categoryPercentage: 1 }));
  const barX: any = {
    type: "category",
    stacked: true,
    ticks: { font: { family: FF, size: 11, weight: "bold" }, color: "#000", maxRotation: 45, minRotation: 45, autoSkip: false, padding: 2 },
    grid: { display: false },
    border: { display: true, color: "#000", width: 1 },
  };
  const barY: any = { ...lin(0, 110, BAR_YTICKS, { font: 11, tick: 4, pad: 7 }), stacked: true };
  S.push(build([483, 784, 713, 906], [45, 8, 10, 62], "bar", barDs, barX, barY, {}, BAR_CATS));
  return S;
}

// [text, x, y, size, weight, rotated]
const LABELS: [string, number, number, number, number, number][] = [
  ["a", 7, 8, 17, 700, 0],
  ["b", 15, 187, 17, 700, 0],
  ["c", 5, 370, 17, 700, 0],
  ["d", 385, 577, 17, 700, 0],
  ["AsPC-1 cells", 110, 6, 11, 700, 0],
  ["MIA PaCa-2 cells", 295, 6, 11, 700, 0],
  ["AsPC-1 cells", 479, 15, 10.5, 700, 0],
  ["MIA PaCa-2 cells", 672, 15, 10.5, 700, 0],
  ["Survival (% of control)", 12, 80, 8, 700, 1],
  ["Survival (% of control)", 198.7, 80, 8, 700, 1],
  ["Concentration [log(mol/L)]", 105, 163, 8, 700, 0],
  ["Concentration [log(mol/L)]", 290, 163, 8, 700, 0],
  ["Combination Index", 381, 87, 8, 700, 1],
  ["Combination Index", 573, 87, 8, 700, 1],
  ["Fraction-affected Value", 456.7, 163.3, 7, 700, 0],
  ["Fraction-affected Value", 665.7, 163.3, 7, 700, 0],
  ["AsPC-1 cells", 107, 197, 10.5, 700, 0],
  ["MIA paca-2 cells", 295, 195, 10.5, 700, 0],
  ["AsPC-1 cells", 475, 193, 10.5, 700, 0],
  ["MIA paca-2 cells", 653, 187, 10.5, 700, 0],
  ["Normalized fluorescence( %", 13, 258, 7.5, 700, 1],
  ["of control)", 23, 258, 7.5, 700, 1],
  ["Normalized fluorescence( %", 200, 255, 7.5, 700, 1],
  ["of control)", 210, 255, 7.5, 700, 1],
  ["Concentration [log(mol/L)]", 107, 335, 8, 700, 0],
  ["Concentration [log(mol/L)]", 296, 335, 8, 700, 0],
  ["Combination Index", 380, 258, 8, 700, 1],
  ["Combination Index", 570, 255, 8, 700, 1],
  ["Fraction-affected Value", 475, 334.7, 8.5, 700, 0],
  ["Fraction-affected Value", 663, 333.7, 8.5, 700, 0],
  ["AsPC-1 cells", 92, 370, 10, 700, 0],
  ["MIA PaCa-2 cells", 285, 370, 10, 700, 0],
  ["AsPC-1 cells", 453, 370, 10, 700, 0],
  ["MIA PaCa-2 cells", 650, 369, 10, 700, 0],
  ["Combination Index", 377, 440, 8.5, 700, 1],
  ["Combination Index", 552.7, 441, 8.5, 700, 1],
  ["Fraction-affected Value", 467, 510, 8.5, 700, 0],
  ["Fraction-affected Value", 652, 510, 8.5, 700, 0],
  ["Survival(%)", 7, 420, 8.5, 700, 1],
  ["Survival(%)", 193, 417.5, 8.5, 700, 1],
  ["Survival(%)", 7, 523.7, 8.5, 700, 1],
  ["Survival(%)", 193, 521.7, 8.5, 700, 1],
  ["Survival(%)", 7, 625.3, 8.5, 700, 1],
  ["Survival(%)", 193, 626.3, 8.5, 700, 1],
  ["Survival(%)", 7, 727.5, 8.5, 700, 1],
  ["Survival(%)", 193, 728, 8.5, 700, 1],
  ["Survival(%)", 7, 831, 8.5, 700, 1],
  ["Survival(%)", 193, 830, 8.5, 700, 1],
  ["Survival(%)", 7, 938.3, 8.5, 700, 1],
  ["Survival(%)", 193, 937.8, 8.5, 700, 1],
  ["Concentration [log(mol/L)]", 97, 468, 8, 700, 0],
  ["Concentration [log(mol/L)]", 287, 468, 8, 700, 0],
  ["Concentration [log(mol/L)]", 97, 573, 8, 700, 0],
  ["Concentration [log(mol/L)]", 287, 573, 8, 700, 0],
  ["Concentration [log(mol/L)]", 97, 678, 8, 700, 0],
  ["Concentration [log(mol/L)]", 287, 678, 8, 700, 0],
  ["Concentration [log(mol/L)]", 97, 778, 8, 700, 0],
  ["Concentration [log(mol/L)]", 287, 778, 8, 700, 0],
  ["Concentration [log(mol/L)]", 97, 882, 8, 700, 0],
  ["Concentration [log(mol/L)]", 287, 882, 8, 700, 0],
  ["Concentration [log(mol/L)]", 97, 986, 8, 700, 0],
  ["Concentration [log(mol/L)]", 287, 986, 8, 700, 0],
  ["Ctrl", 453, 586, 8.5, 700, 0],
  ["GEM", 542, 586, 8.5, 700, 0],
  ["DTLL", 627, 586, 8.5, 700, 0],
  ["GEM+DTLL", 715, 586, 8.5, 700, 0],
  ["Ctrl", 452, 680, 8.5, 700, 0],
  ["GEM", 543, 681, 8.5, 700, 0],
  ["DTLL", 628, 681, 8.5, 700, 0],
  ["GEM+DTLL", 716, 681, 8.5, 700, 0],
  ["AsPC-1", 376, 617, 8.5, 700, 0],
  ["cells", 376, 628, 8.5, 700, 0],
  ["MIA PaCa-2", 376, 709, 8.5, 700, 0],
  ["cells", 376, 719, 8.5, 700, 0],
  ["Cell cycle distribution (%)", 443, 853, 9.3, 700, 1],
  ["AsPC-1 cells", 525, 970, 11.5, 700, 0],
  ["MIA-paca-2 cells", 652, 970, 11.5, 700, 0],
];

const BOXES = makeSpecs().map((s) => s.box);

export default function App() {
  const refs = useRef<(HTMLCanvasElement | null)[]>([]);
  useEffect(() => {
    const specs = makeSpecs();
    const charts = specs.map((s, i) => new Chart(refs.current[i] as HTMLCanvasElement, s.cfg as any));
    return () => charts.forEach((c) => c.destroy());
  }, []);
  return (
    <div style={{ position: "absolute", left: 0, top: 0, width: 749, height: 991, overflow: "hidden", background: "#fff", fontFamily: FF }}>
      {BOXES.map((b, i) => (
        <canvas
          key={i}
          ref={(el) => {
            refs.current[i] = el;
          }}
          width={b[2]}
          height={b[3]}
          style={{ position: "absolute", left: b[0], top: b[1], width: b[2], height: b[3] }}
        />
      ))}
      {LABELS.map((l, i) => (
        <div
          key={"t" + i}
          style={{
            position: "absolute",
            left: l[1],
            top: l[2],
            transform: `translate(-50%, -50%)${l[5] ? " rotate(-90deg)" : ""}`,
            fontSize: l[3],
            fontWeight: l[4],
            whiteSpace: "nowrap",
            lineHeight: 1,
            color: "#000",
          }}
        >
          {l[0]}
        </div>
      ))}
    </div>
  );
}
